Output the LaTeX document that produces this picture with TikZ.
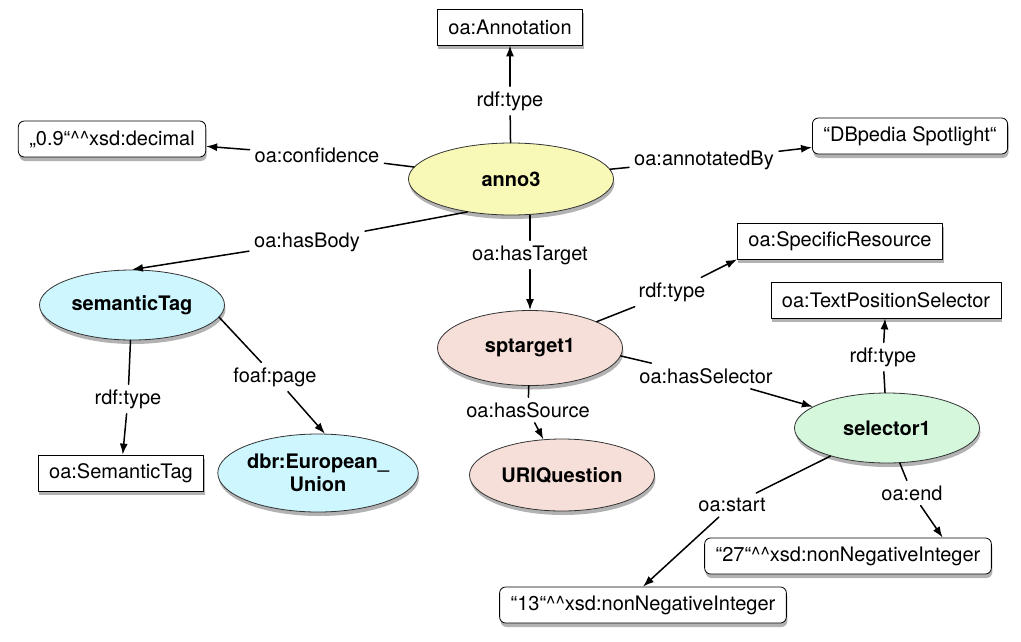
\documentclass[tikz,border=0pt]{standalone}
\usepackage{fontspec}
\setmainfont{TeX Gyre Heros}
\usepackage{xcolor}
\usetikzlibrary{arrows.meta,shapes.geometric,shadows}
\definecolor{annoyellow}{HTML}{F9F9B7}
\definecolor{tagcyan}{HTML}{CDF6FF}
\definecolor{targetpink}{HTML}{F7DFD9}
\definecolor{selgreen}{HTML}{D5F8DD}
\begin{document}
\begin{tikzpicture}[line cap=round,line join=round,>={Latex[length=11pt,width=8pt]},x=1pt,y=-1pt,
    every node/.append style={font=\fontsize{20}{23}\selectfont},
    shade/.style={drop shadow={shadow xshift=1pt,shadow yshift=-4pt,opacity=0.3,fill=black}},
    classbox/.style={rectangle,draw=black,line width=0.8pt,fill=white,shade,minimum height=36pt,inner xsep=11pt},
    litbox/.style={classbox,rounded corners=6pt},
    res/.style={ellipse,draw=black!80,line width=0.8pt,shade,inner sep=0pt,align=center,font=\fontsize{20}{23}\selectfont\bfseries},
    prop/.style={inner sep=5pt},
    link/.style={line width=1.5pt},
    linkto/.style={line width=1.5pt,->}]
    \useasboundingbox (0,0) rectangle (1021,641);
    % resources
    \node[res,fill=annoyellow,minimum width=205pt,minimum height=72pt] (anno3) at (511,179) {anno3};
    \node[res,fill=tagcyan,minimum width=185pt,minimum height=70pt] (semtag) at (132,305) {semanticTag};
    \node[res,fill=tagcyan,minimum width=165pt,minimum height=78pt] (eu) at (318,473) {dbr:European\_\\Union};
    \node[res,fill=targetpink,minimum width=185pt,minimum height=75pt] (sptarget) at (530,348) {sptarget1};
    \node[res,fill=targetpink,minimum width=185pt,minimum height=72pt] (uriq) at (562,475) {URIQuestion};
    \node[res,fill=selgreen,minimum width=185pt,minimum height=70pt] (selector) at (887,428) {selector1};
    % classes and literals
    \node[classbox] (annclass) at (510,27) {oa:Annotation};
    \node[litbox] (conf) at (112,139) {„0.9“\textasciicircum\textasciicircum xsd:decimal};
    \node[litbox] (spot) at (910,136) {“DBpedia Spotlight“};
    \node[classbox] (tagclass) at (121,473) {oa:SemanticTag};
    \node[classbox] (specres) at (840,241) {oa:SpecificResource};
    \node[classbox] (tpsclass) at (886,300) {oa:TextPositionSelector};
    \node[litbox] (start13) at (643,605) {“13“\textasciicircum\textasciicircum xsd:nonNegativeInteger};
    \node[litbox] (end27) at (848,556) {“27“\textasciicircum\textasciicircum xsd:nonNegativeInteger};
    % property labels
    \node[prop] (lanntype) at (510,101) {rdf:type};
    \node[prop] (lconf) at (317,155) {oa:confidence};
    \node[prop] (lby) at (704,160) {oa:annotatedBy};
    \node[prop] (lbody) at (307,242) {oa:hasBody};
    \node[prop] (ltarget) at (530,255) {oa:hasTarget};
    \node[prop] (ltagtype) at (128,399) {rdf:type};
    \node[prop] (lpage) at (275,377) {foaf:page};
    \node[prop] (lsptype) at (672,292) {rdf:type};
    \node[prop] (lsel) at (706,376) {oa:hasSelector};
    \node[prop] (lsrc) at (528,410) {oa:hasSource};
    \node[prop] (lseltype) at (883,357) {rdf:type};
    \node[prop] (lstart) at (732,505) {oa:start};
    \node[prop] (lend) at (912,493) {oa:end};
    % edges
    \draw[link] (anno3) -- (lanntype);
    \draw[linkto] (lanntype) -- (annclass);
    \draw[link] (anno3) -- (lconf);
    \draw[linkto] (lconf) -- (conf);
    \draw[link] (anno3) -- (lby);
    \draw[linkto] (lby) -- (spot);
    \draw[link] (anno3.-143) -- (lbody);
    \draw[linkto] (lbody) -- (semtag.north);
    \draw[link] (ltarget |- anno3.south) -- (ltarget);
    \draw[linkto] (ltarget) -- (sptarget);
    \draw[link] (semtag) -- (ltagtype);
    \draw[linkto] (ltagtype) -- (tagclass);
    \draw[link] (semtag.-8) -- (lpage);
    \draw[linkto] (lpage) -- (eu.80);
    \draw[link] (sptarget) -- (lsptype);
    \draw[linkto] (lsptype) -- (specres.south west);
    \draw[link] (sptarget.-5) -- (lsel);
    \draw[linkto] (lsel) -- (selector);
    \draw[link] (sptarget) -- (lsrc);
    \draw[linkto] (lsrc) -- (uriq);
    \draw[link] (selector) -- (lseltype);
    \draw[linkto] (lseltype) -- (tpsclass);
    \draw[link] (selector) -- (lstart);
    \draw[linkto] (lstart) -- (start13.north);
    \draw[link] (selector.-70) -- (lend);
    \draw[linkto] (lend) -- (end27.11);
\end{tikzpicture}
\end{document}
